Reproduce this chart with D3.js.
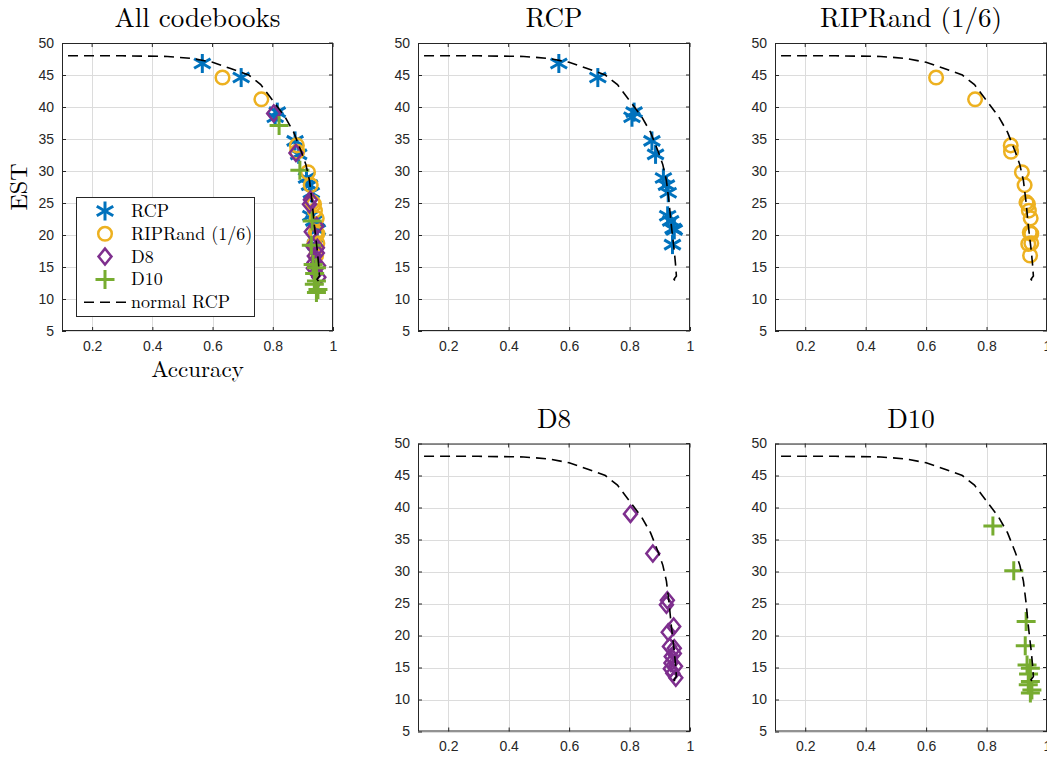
<!DOCTYPE html>
<html>
<head>
<meta charset="utf-8">
<script src="https://cdn.jsdelivr.net/npm/d3@7"></script>
<style>
  html, body { margin: 0; padding: 0; background: #fff; }
  svg { display: block; }
</style>
</head>
<body>
<svg id="chart" width="1047" height="757"></svg>
<script>
// Reference curve: normal RCP trade-off between accuracy and EST
const normalAcc = [0.12, 0.30, 0.45, 0.53, 0.60, 0.66, 0.72, 0.76, 0.80, 0.84, 0.87, 0.895, 0.91, 0.922, 0.931, 0.937, 0.943, 0.948, 0.952, 0.955, 0.947, 0.956];
const normalEst = [48, 48, 47.9, 47.6, 47, 46, 45, 43.5, 41, 38.5, 36, 33, 31, 28.5, 25, 22, 19.5, 17.5, 15.5, 13.6, 13.1, 12.5];

// Codebook results
const rcpAcc = [0.566, 0.695, 0.815, 0.808, 0.874, 0.886, 0.912, 0.922, 0.928, 0.926, 0.936, 0.944, 0.948, 0.942];
const rcpEst = [46.8, 44.6, 39.2, 38.4, 34.7, 32.6, 28.9, 27.8, 26.6, 23.0, 22.2, 21.0, 20.8, 18.5];

const ripAcc = [0.633, 0.762, 0.880, 0.881, 0.917, 0.926, 0.932, 0.937, 0.940, 0.946, 0.943, 0.948, 0.938, 0.948, 0.944];
const ripEst = [44.6, 41.2, 34.0, 33.0, 29.8, 27.8, 25.1, 24.8, 23.8, 22.6, 20.4, 20.2, 18.6, 18.7, 16.8];

const d8Acc = [0.803, 0.877, 0.925, 0.922, 0.946, 0.928, 0.932, 0.948, 0.948, 0.938, 0.937, 0.952, 0.935, 0.943, 0.953];
const d8Est = [39.0, 32.8, 25.5, 24.8, 21.4, 20.5, 18.3, 18.0, 17.2, 16.7, 15.7, 15.2, 14.8, 14.1, 13.4];

const d10Acc = [0.821, 0.890, 0.931, 0.928, 0.934, 0.945, 0.939, 0.945, 0.938, 0.950, 0.945];
const d10Est = [37.1, 30.1, 22.2, 18.4, 15.4, 14.9, 14.0, 12.8, 12.3, 11.5, 11.0];

const xTicks = [0.2, 0.4, 0.6, 0.8, 1];
const yTicks = [5, 10, 15, 20, 25, 30, 35, 40, 45, 50];
const xDomain = [0.1, 1];
const yDomain = [5, 50];

const seriesNames = ["RCP", "RIPRand (1/6)", "D8", "D10"];
const seriesColors = ["#0072BD", "#EDB120", "#7E2F8E", "#77AC30"];
const seriesShapes = ["asterisk", "circle", "diamond", "plus"];
const curveName = "normal RCP";

const series = [
  { acc: rcpAcc, est: rcpEst },
  { acc: ripAcc, est: ripEst },
  { acc: d8Acc, est: d8Est },
  { acc: d10Acc, est: d10Est }
].map((s, i) => ({
  name: seriesNames[i], color: seriesColors[i], shape: seriesShapes[i],
  points: s.acc.map((a, j) => [a, s.est[j]])
}));
const curve = normalAcc.map((a, i) => [a, normalEst[i]]);

const svg = d3.select("#chart");
const serif = "'Latin Modern Roman','CMU Serif','Liberation Serif','DejaVu Serif',serif";
const sans = "'Liberation Sans', Arial, Helvetica, sans-serif";
const axisColor = "#262626";

function drawMarker(g, shape, color) {
  if (shape === "asterisk") {
    const r = 9.5;
    [90, 30, 150].forEach(deg => {
      const t = deg * Math.PI / 180;
      g.append("line")
        .attr("x1", -r * Math.cos(t)).attr("y1", -r * Math.sin(t))
        .attr("x2", r * Math.cos(t)).attr("y2", r * Math.sin(t))
        .attr("stroke", color).attr("stroke-width", 3);
    });
  } else if (shape === "circle") {
    g.append("circle").attr("r", 6.8).attr("fill", "none")
      .attr("stroke", color).attr("stroke-width", 2.5);
  } else if (shape === "diamond") {
    g.append("path").attr("d", "M0,-8L6.5,0L0,8L-6.5,0Z")
      .attr("fill", "none").attr("stroke", color).attr("stroke-width", 2.5);
  } else if (shape === "plus") {
    const r = 9.5;
    g.append("path").attr("d", `M${-r},0H${r}M0,${-r}V${r}`)
      .attr("fill", "none").attr("stroke", color).attr("stroke-width", 3);
  }
}

function panel(opts) {
  const { left, top, width, height, title, show, xlabel, ylabel, legend } = opts;
  const x = d3.scaleLinear().domain(xDomain).range([left, left + width]);
  const y = d3.scaleLinear().domain(yDomain).range([top + height, top]);
  const g = svg.append("g");

  g.append("rect").attr("x", left).attr("y", top).attr("width", width).attr("height", height)
    .attr("fill", "#fff");

  // grid
  const grid = g.append("g").attr("stroke", "#dcdcdc").attr("stroke-width", 1);
  xTicks.forEach(t => grid.append("line")
    .attr("x1", Math.round(x(t)) + 0.5).attr("x2", Math.round(x(t)) + 0.5)
    .attr("y1", top).attr("y2", top + height));
  yTicks.forEach(t => grid.append("line")
    .attr("y1", Math.round(y(t)) + 0.5).attr("y2", Math.round(y(t)) + 0.5)
    .attr("x1", left).attr("x2", left + width));

  // axes with inward ticks
  const xAxis = g.append("g").attr("transform", `translate(0,${top + height})`)
    .call(d3.axisBottom(x).tickValues(xTicks).tickSizeInner(-4).tickSizeOuter(0).tickPadding(10)
      .tickFormat(d3.format("")));
  const yAxis = g.append("g").attr("transform", `translate(${left},0)`)
    .call(d3.axisLeft(y).tickValues(yTicks).tickSizeInner(-4).tickSizeOuter(0).tickPadding(8));
  [xAxis, yAxis].forEach(a => {
    a.select(".domain").remove();
    a.selectAll("line").attr("stroke", axisColor);
    a.selectAll("text").attr("fill", axisColor).style("font-family", sans).style("font-size", "14px");
  });
  const tk = g.append("g").attr("stroke", axisColor);
  xTicks.forEach(t => tk.append("line").attr("x1", x(t)).attr("x2", x(t)).attr("y1", top).attr("y2", top + 4));
  yTicks.forEach(t => tk.append("line").attr("y1", y(t)).attr("y2", y(t)).attr("x1", left + width).attr("x2", left + width - 4));

  // data
  const clipId = "clip" + Math.round(left) + "_" + Math.round(top);
  svg.append("clipPath").attr("id", clipId).append("rect")
    .attr("x", left - 12).attr("y", top - 12).attr("width", width + 24).attr("height", height + 24);
  const data = g.append("g").attr("clip-path", `url(#${clipId})`);
  show.forEach(i => {
    const s = series[i];
    s.points.forEach(p => {
      const m = data.append("g").attr("transform", `translate(${x(p[0])},${y(p[1])})`);
      drawMarker(m, s.shape, s.color);
    });
  });
  data.append("path").datum(curve)
    .attr("d", d3.line().x(d => x(d[0])).y(d => y(d[1])))
    .attr("fill", "none").attr("stroke", "#000").attr("stroke-width", 1.6)
    .attr("stroke-dasharray", "10,6");

  // box
  g.append("rect").attr("x", left + 0.5).attr("y", top + 0.5).attr("width", width - 1).attr("height", height - 1)
    .attr("fill", "none").attr("stroke", axisColor).attr("stroke-width", 1);

  // title
  g.append("text").attr("x", left + width / 2).attr("y", top - 16)
    .attr("text-anchor", "middle").style("font-family", serif).style("font-size", "27px")
    .attr("fill", "#000").text(title);

  if (xlabel) {
    g.append("text").attr("x", left + width / 2).attr("y", top + height + 46)
      .attr("text-anchor", "middle").style("font-family", serif).style("font-size", "23px")
      .attr("fill", "#000").text(xlabel);
  }
  if (ylabel) {
    g.append("text").attr("transform", `translate(${left - 35},${top + height / 2}) rotate(-90)`)
      .attr("text-anchor", "middle").style("font-family", serif).style("font-size", "24px")
      .attr("fill", "#000").text(ylabel);
  }

  if (legend) {
    const lx = 76, ly = 197, lw = 178, lh = 119;
    const lg = g.append("g");
    lg.append("rect").attr("x", lx + 0.5).attr("y", ly + 0.5).attr("width", lw).attr("height", lh)
      .attr("fill", "#fff").attr("stroke", axisColor).attr("stroke-width", 1);
    const rowY = i => ly + 14 + i * 22.8;
    series.forEach((s, i) => {
      const m = lg.append("g").attr("transform", `translate(105,${rowY(i)})`);
      drawMarker(m, s.shape, s.color);
      lg.append("text").attr("x", 131).attr("y", rowY(i) + 6)
        .style("font-family", serif).style("font-size", "18px").attr("fill", "#000").text(s.name);
    });
    lg.append("line").attr("x1", 84).attr("x2", 128).attr("y1", rowY(4)).attr("y2", rowY(4))
      .attr("stroke", "#000").attr("stroke-width", 1.6).attr("stroke-dasharray", "10,6");
    lg.append("text").attr("x", 131).attr("y", rowY(4) + 6)
      .style("font-family", serif).style("font-size", "18px").attr("fill", "#000").text(curveName);
  }
}

panel({ left: 62, top: 43, width: 271, height: 288, title: "All codebooks", show: [0, 1, 2, 3],
  xlabel: "Accuracy", ylabel: "EST", legend: true });
panel({ left: 418, top: 43, width: 272, height: 288, title: "RCP", show: [0] });
panel({ left: 775, top: 43, width: 272, height: 288, title: "RIPRand (1/6)", show: [1] });
panel({ left: 418, top: 443.5, width: 272, height: 288, title: "D8", show: [2] });
panel({ left: 775, top: 443.5, width: 272, height: 288, title: "D10", show: [3] });
</script>
</body>
</html>
